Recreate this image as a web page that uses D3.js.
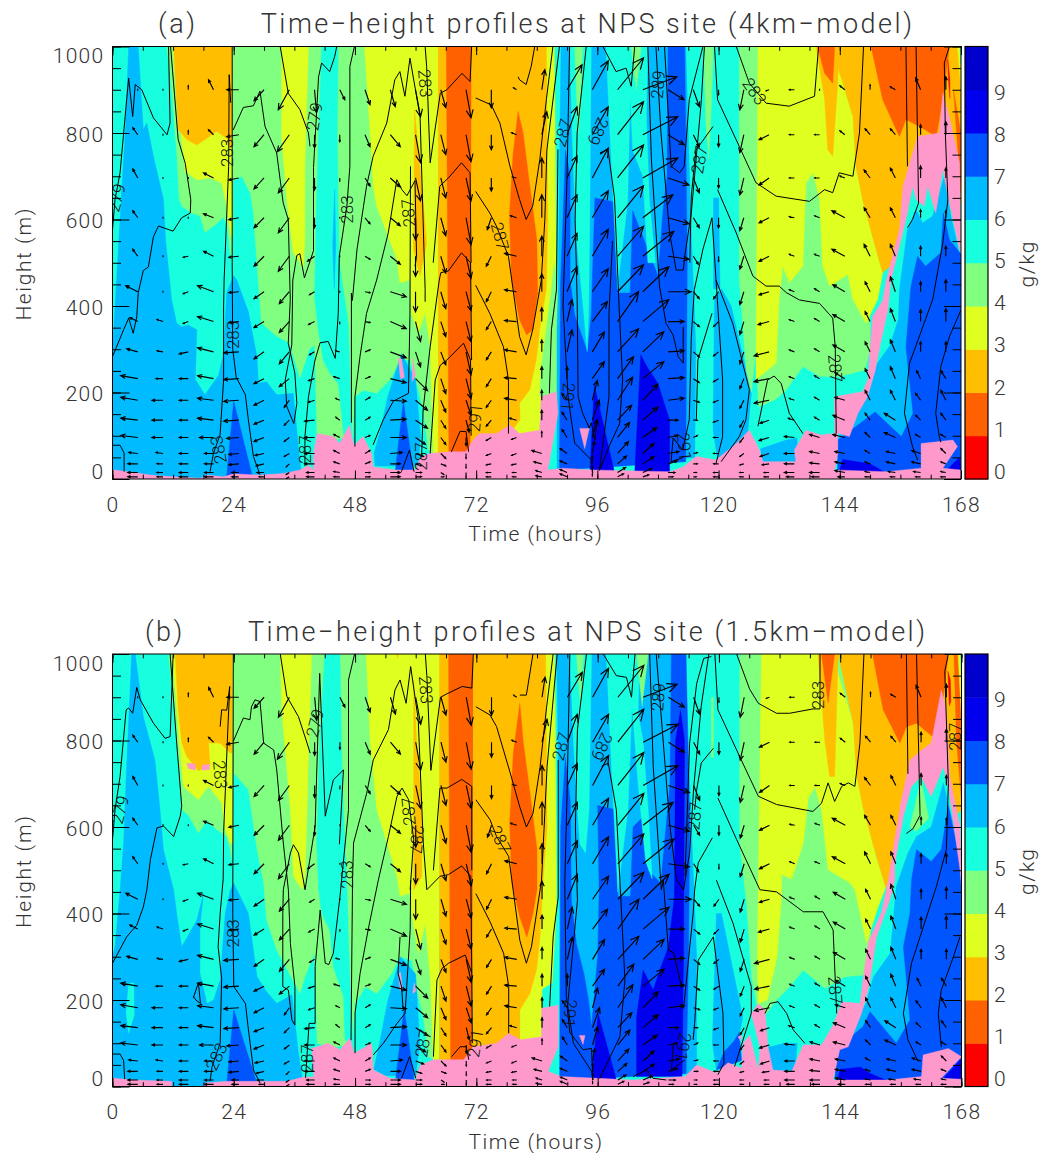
<!DOCTYPE html>
<html><head><meta charset="utf-8">
<script src="https://cdn.jsdelivr.net/npm/d3@7"></script>
<style>html,body{margin:0;background:#fff}svg{display:block}
text{font-family:"Roboto","Liberation Sans",sans-serif;fill:#333;font-weight:300;white-space:pre}</style>
</head><body><svg id="c" width="1040" height="1153"></svg>
<script>
const bandColors=["#ff0000","#ff6000","#ffbf00","#dfff20","#80ff80","#18ffdf","#00bbff","#0055ff","#0000ee","#0000cc","#ff99cc"];
const qTicks=[0,1,2,3,4,5,6,7,8,9];
const timeTicks=[0,24,48,72,96,120,144,168];
const timeMinor=d3.range(0,169,6);
const heightTicks=[0,200,400,600,800,1000];
const heightMinor=d3.range(0,1001,50);
const windHeights=[5,15,35,59,96,136,182,232,294,364,433,515,604,696,796,900];
const windTimes=d3.range(0,166,5);
// wind components per time column, lowest level first
const windU=[
[-5,-5,-5,-5,-8,-8,-8,-8,-8,-8,-8,-5,-5,-5,-5,-5],
[-10,-10,-10,-9,-17,-17,-17,-17,-11,-8,-12,-5,-5,-5,-5,0],
[-6,-6,-6,-7,-11,-11,-11,-7,-6,-6,0,0,0,0,0,0],
[-9,-9,-9,-9,-9,-9,-9,-9,-9,-5,-5,-5,0,0,0,0],
[-9,-9,-9,-9,-14,-16,-16,-16,-16,-16,-16,-10,-10,-10,-5,-5],
[-7,-7,-10,-10,-12,-15,-15,-15,-15,-10,-10,-10,-10,-10,-12,-12],
[-5,-7,-8,-9,-10,-10,-10,-10,-10,-10,-10,-10,-10,-10,-10,-10],
[-3,-3,-3,-5,-5,-5,-5,-10,-10,-10,-10,-11,-11,-11,-12,-11],
[-8,-8,-10,-10,-10,-10,-6,-6,-5,-6,-5,-7,0,0,0,2],
[-6,-6,-6,-6,-6,-4,-4,-6,-4,0,0,0,0,0,0,5],
[5,5,5,5,5,5,5,5,5,5,5,5,5,5,5,5],
[10,10,10,12,16,16,16,16,16,16,16,10,10,10,10,5],
[6,6,6,8,10,12,12,12,5,5,0,0,0,5,5,5],
[3,3,5,5,5,5,5,5,5,5,5,5,5,5,5,5],
[0,0,0,0,0,3,5,5,5,5,5,5,5,5,5,5],
[-5,-5,-5,-5,-5,-5,-5,-5,-5,-5,-5,-5,-4,0,0,0],
[-4,-4,-5,-5,-5,-7,-12,-12,-12,-12,-12,-12,-6,-4,-5,-3],
[-6,-6,-8,-10,0,0,0,0,0,0,0,0,0,0,5,3],
[-7,-7,-7,-7,-5,-5,-5,0,5,5,10,10,10,10,10,15],
[0,0,0,2,5,7,5,12,12,15,16,16,16,16,16,16],
[6,8,9,11,12,14,15,16,21,21,26,26,26,26,26,26],
[6,9,11,11,14,15,15,21,21,26,26,31,30,35,35,34],
[5,7,9,11,9,10,16,16,16,16,23,21,21,21,16,16],
[3,3,4,4,4,4,6,6,6,6,6,5,6,6,6,6],
[-5,-5,-5,-5,-5,-5,-5,-5,-5,-5,-5,0,0,0,0,0],
[-4,-4,-4,-4,-4,-4,-4,-4,-4,-4,-4,-4,-4,-4,-4,-4],
[-5,-5,-7,-9,-10,-9,-15,-15,-15,-11,-10,-10,-10,-10,-10,-3],
[-8,-10,-10,-10,-10,-6,-5,-5,-5,-5,-5,-5,-5,-5,-5,-5],
[-8,-10,-10,-10,-10,-5,-5,-5,-5,-5,-5,-5,-5,-5,-5,0],
[-7,-10,-10,-10,-12,-12,-10,-10,-12,-12,-12,-13,-13,-5,-5,-5],
[-5,-5,-5,-5,-5,-5,-5,-5,-5,-5,-5,-6,-6,-6,-5,0],
[-5,-7,-9,-9,-11,-11,-5,-5,-5,-5,-5,-5,-5,-5,-5,-5],
[-5,-7,-9,-9,-5,-5,-5,-4,0,0,0,0,0,0,0,-5],
[-5,-5,-5,-5,-5,-5,-5,-5,0,0,0,0,0,0,0,0]];
const windV=[
[0,0,0,0,1,1,1,1,1,1,1,1,1,1,1,0],
[0,0,0,1,2,2,3,3,3,4,6,7,7,9,7,0],
[0,0,0,1,0,0,0,0,1,2,0,0,0,0,0,0],
[0,0,0,0,0,0,0,0,-2,-2,-2,-1,0,0,4,4],
[0,0,0,0,0,2,2,3,4,5,6,5,4,5,5,10],
[0,0,-1,-1,-1,-1,-1,-1,-1,-1,-1,-1,-2,-2,-2,0],
[0,0,-2,-2,-4,-4,-5,-5,-7,-6,-7,-10,-10,-11,-12,-11],
[-2,-2,-3,-3,-4,-5,-7,-8,-12,-11,-12,-15,-15,-15,-17,-20],
[0,0,0,0,0,-1,-2,-2,-3,-3,-3,-5,-10,-12,-13,-23],
[0,1,2,3,3,3,2,2,1,-2,0,0,0,-3,-7,-10],
[0,0,2,3,2,3,3,2,2,-1,-1,-3,-6,-8,-12,-15],
[0,0,0,1,0,1,-1,-4,-6,-7,-5,-8,-8,-9,-12,-17],
[0,0,-2,-3,-7,-8,-10,-12,-15,-20,-20,-20,-22,-23,-28,-27],
[0,-2,-2,-5,-7,-8,-12,-15,-13,-15,-17,-17,-18,-20,-20,-18],
[-3,-4,-4,-5,-8,-12,-15,-20,-23,-20,-19,-22,-27,-23,-27,-28],
[0,0,-1,-2,-3,-6,-7,-8,-8,-8,-10,-10,-12,-13,-15,-18],
[0,0,-1,-2,-2,2,2,1,2,1,2,3,2,1,2,2],
[1,2,2,3,6,10,10,12,12,14,18,20,23,20,23,20],
[3,3,3,5,8,8,7,12,22,22,25,23,23,22,28,25],
[3,6,8,12,18,20,20,17,20,20,23,27,27,30,28,29],
[3,5,8,12,15,15,23,22,23,30,27,30,32,33,33,32],
[2,4,7,10,10,13,16,17,20,22,25,25,23,20,18,13],
[0,0,3,2,2,0,2,1,1,0,0,-3,-6,-7,-10,-10],
[0,0,0,1,2,0,-2,-4,-5,-5,-7,-8,-10,-15,-12,-17],
[0,0,0,0,0,-2,-2,-3,-4,-5,-7,-5,-10,-10,-12,-5],
[0,0,-1,-3,-5,-7,-8,-10,-12,-13,-13,-13,-13,-17,-18,-20],
[0,0,-1,-3,-3,-3,-3,-3,-4,-3,-3,-5,-5,-7,-5,-1],
[0,0,0,0,1,2,2,2,2,2,2,2,1,0,0,0],
[0,0,1,2,3,3,3,3,3,3,3,2,2,0,0,0],
[0,2,2,2,3,5,3,6,7,7,7,7,7,2,4,4],
[0,1,2,3,5,7,10,10,10,10,10,12,10,8,6,5],
[0,1,2,2,5,7,10,12,12,13,15,12,10,10,6,3],
[0,1,2,3,3,5,7,8,10,12,10,10,8,12,10,12],
[0,1,2,5,3,7,10,8,10,13,12,10,7,10,13,13]];

// filled humidity regions: [band, hour, metre, hour, metre, ...] in painting order; band 10 is the pink class
const qRegionsA=[
[5,0,0,168,0,168,1000,0,1000],
[6,3.2,1000,5.1,1000,6.1,808,6.8,823,8.1,746,10.1,646,10.5,554,11.7,415,12.7,360,13.7,352,15,356,16.7,345,16.4,230,18.3,195,21,240,22,290,22.6,430,24,470,24.6,460,26.9,387,28.6,283,28.9,222,30.5,225,32.5,195,35.8,198,36.8,75,37.5,0,0,0,0,300,0.5,400,1.5,600,2.5,800],
[7,24,180,27.7,6,22.6,6],
[4,10.8,1000,23.8,1000,23.7,500,23.3,524,22.7,585,22,605,20,585,18.3,570,17.3,608,15.7,615,13.8,630,13.2,646,12.8,738,11.9,877],
[3,11.9,1000,23.8,1000,23.8,560,23.5,560,22.6,630,21.6,685,19.3,696,16.7,692,14.4,711,13,850],
[2,12.1,1000,23.7,1000,23.7,770,23.3,765,22.6,788,20.6,804,18.7,788,16.7,772,14.7,785,13,808],
[4,23.9,1000,64,1000,64,60,63,60,62.5,69,61.5,161,60.2,223,58.9,275,57,275,55,230,52.3,198,49.7,205,48,190,47.5,100,44,90,40.5,100,40,310,39,300,37.1,233,35,315,32.5,330,29.5,360,28.9,450,27.9,615,27.3,660,25.6,700,23.9,690],
[5,41.4,1000,44.7,1000,44.5,800,44.9,500,46.7,360,47.3,130,47.5,75,46,80,44.7,220,43,245,41.7,275,40.8,340,40,420,40.3,600,40.8,800],
[6,43.6,540,44,670,44.2,540,43.9,440],
[3,33.5,1000,38.8,1000,38.1,723,38.1,550,37.8,490,35.8,523,34.5,646,33.5,785],
[6,57.2,290,60,230,61,100,60.5,30,55.5,30,54.5,30,52,30,51.8,60,53,110,54.5,190],
[7,57.6,180,59.5,20,56,20],
[3,49.9,1000,64.6,1000,64.6,60,63.5,59,62.9,306,61.9,383,60.5,337,59.2,383,58.9,460,56.9,454,56.3,508,52.3,631,51.6,677,50.6,877],
[2,59.8,854,61.2,685,62.2,545,60.9,469,59.6,530],
[2,64.5,1000,71.2,1000,71.2,60,64.5,60],
[1,66.1,1000,71.1,1000,70.8,60,66.6,60],
[3,85.9,1000,87.5,1000,87.9,420,87,240,85,225,84.5,100,78,100,80.7,137,80.6,175],
[4,87.5,500,88.2,430,88,190,84.6,190,84.9,260,86.5,400],
[2,71.1,1000,85.9,1000,86.2,600,85.9,440,84.6,345,83.9,275,82.6,206,80.6,175,80.7,137,78.7,105,71.1,70],
[1,80.3,850,81.3,800,82.6,680,84,555,84.2,430,83.2,345,82,333,80.6,368,79,460,78.6,610,79.3,750],
[6,88.8,1000,113.5,1000,114.5,600,115.5,300,115.3,50,88,20,88,350,88.2,415,88.5,720],
[7,89.7,760,90.6,700,90.6,460,91.5,380,94,295,94.8,380,95.5,650,99.7,640,100,430,102.5,430,103,620,105,560,108,470,109,620,109.8,700,110,1000,113.3,1000,113.8,500,113.5,40,88.5,20,88.7,450],
[5,90.5,1000,94.8,1000,94.5,600,94.3,400,94,295,93,420,91.8,560,91,800],
[4,91.5,1000,93.1,1000,92.6,850,92.2,800],
[5,97.7,1000,106,1000,105.7,840,106.3,646,107.5,500,106,500,105,700,103,760,102.5,885,102,640,100,440,99,677,98.5,800],
[4,102.7,1000,104.7,1000,103.7,900],
[8,95.4,217,94.5,15,99.4,15],
[8,104.6,287,105.8,260,108,221,110.3,136,110.3,15,103.4,15],
[4,117,1000,119,1000,118.4,820,118,740,117.5,820],
[6,119,650,120,650,120.3,440,119,440],
[6,119.2,420,120.6,440,122.5,400,125.5,250,126.5,200,125.8,110,123,60,119.8,45,118.9,114],
[4,124.1,1000,150,1000,150,300,149,252,144,237,140,237,136.7,260,133.4,206,131.2,183,127.9,167,127.4,300,126.5,200,125.5,250,124.1,460],
[3,127.8,1000,143,1000,143.6,954,146.6,838,147.2,723,148.5,646,151.2,530,152.5,477,151.5,415,149.2,360,146.6,415,145.6,473,142,446,140.6,492,140,646,138.7,708,137.3,685,136.7,492,134,454,132.7,492,132,415,131.4,268,129,245,127.4,229],
[2,139.3,1000,141,877,141.6,762,142.6,746,143.6,915,143.9,1000],
[1,139.6,1000,141,938,142.6,915,143,1000],
[2,143,1000,168,1000,168,640,152.5,477,151.2,530,148.5,646,147.2,723,146.6,838,143.6,954],
[1,150.2,1000,165.7,1000,165.4,969,164.4,877,163.1,792,159.8,815,157.1,831,155.8,792,152.5,877],
[1,166.5,900,168,800,168,660],
[3,167.3,1000,168,1000,168,900],
[5,167.8,1000,168,1000,168,960],
[0,165.4,970,165.8,925,165.8,880,165.5,925],
[5,149,150,154,415,154.1,459,155.8,538,157.4,615,158.4,677,161,690,164.4,720,165.7,640,168,530,168,0,145,0],
[6,143.6,95,149,190,150.6,254,153.9,308,155.6,369,155.8,437,157.4,577,159.1,623,160.4,592,162.4,608,164.7,700,166,608,167.8,515,168,500,168,0,143.6,0],
[7,143.6,90,147.6,125,151,155,156.2,98,158.5,152,157.1,305,158.1,446,159.4,515,161,492,164,523,164.5,615,165.7,553,167.8,523,168,520,168,0,143.6,0],
[8,143.6,5,144.6,45,150,35,153,15],
[8,165.5,25,167.7,50,168,15],
[6,128.8,40,128.3,70,133.4,90,135.5,95,135.9,40],
[10,0,0,0,20,0.5,21,4.2,15,7.5,9,12,5,17.4,2,18.6,9,22,5,24,12,29.2,9,33.9,13,37.1,21,38.8,32,39.8,21,39.8,59,40.5,105,43.8,98,45,82,46.9,125,47.8,78,49.6,98,51.3,59,51.6,28,56.2,21,59.9,21,60.9,48,62.5,59,66.8,63,70,63,71.4,90,72.7,105,76,105,78.7,125,80.6,105,84.6,113,84.9,190,87.9,202,88.2,152,86.2,21,89.2,25,95.1,21,110.3,17,113,28,115.6,52,119.5,44,123.5,82,126.1,113,128.1,67,128.8,40,135.3,40,135,67,137.3,113,140.3,102,143,106,142.9,190,148.5,202,149.5,228,150.5,375,152.5,413,153.2,459,155.8,577,156.5,677,159.4,792,163.7,800,164.4,892,165.7,838,167.7,731,168,523,167.7,531,165.7,638,164.4,715,163,615,161.4,677,160.7,631,159.1,646,158.4,677,157.4,615,155.8,538,154.1,459,153.5,390,152,310,151,250,149.5,190,147.6,152,145.9,98,143.6,106,143.6,59,143,21,153.2,17,160.1,25,160.1,82,166.4,90,167.3,75,164.4,25,168,21,168,0],
[10,92.5,117,94.4,117,93.5,70],
[10,56.6,280,57.2,278,57.8,235,57,232],
[10,59.5,280,60,240,59.3,225]
];
const qRegionsB=[
[5,0,0,168,0,168,1000,0,1000],
[6,3.8,1000,4.5,1000,6.1,855,8.4,755,9.4,640,10.1,546,12.1,455,12.7,400,13.7,323,16.7,385,18,446,17.3,369,17.3,262,18.7,192,20,200,21.3,246,22.3,400,23.3,454,24,470,26.9,400,28.6,254,30.5,219,32.5,192,35.5,212,36.8,77,37.5,23,37.5,0,0,0,0,300,0.5,323,1.5,455,2.2,563,2.7,717],
[5,2.7,170,3.2,238,4.2,240,4.3,165,3.2,123],
[7,24,177,28.6,6,22.6,6],
[4,11.1,1000,23.8,1000,23.7,520,23.3,548,22.6,578,20.6,594,18.7,617,17,586,15,628,13.7,640,13.4,717,12.4,840],
[3,11.8,1000,23.8,1000,23.8,560,23.3,563,22.3,594,21.6,655,19,694,17,663,14,694,13.2,800],
[2,12.4,1000,23.7,1000,23.7,771,23.3,771,21.3,794,19,794,19.3,744,17,730,14.7,763,13.7,794,13,871],
[10,14.7,748,16.4,745,16.4,732,15,735],
[10,17.7,743,19.2,745,19.2,733,17.7,731],
[4,23.9,1000,64,1000,64,60,62.5,69,61.5,161,60.2,223,59.2,292,56.9,300,55.3,262,52.3,215,50,230,48,190,47.5,100,44,90,40.5,100,40,310,38.1,254,37.1,215,32.5,315,30.5,385,29.9,471,28.6,548,26.9,686,24,725],
[5,42,1000,45,1000,45.5,700,46.4,455,47,246,47.7,92,46,108,45.7,208,43.7,277,43,361,41.4,400,40.8,455,40.4,563,41,800],
[3,33.2,1000,39.4,1000,38.5,640,38.1,486,37.5,455,35.8,486,35.2,640,33.5,870],
[6,57,300,60,260,60.8,100,60,25,54,25,51.7,40,53,110,54.5,200],
[7,57.7,180,59.7,15,56,15],
[3,50.2,1000,64.8,1000,64.6,62,63.5,62,62.9,246,61.9,377,60.5,308,59.2,400,58.9,448,56.9,440,56.3,486,52.3,640,51,794],
[2,56.2,1000,56.6,1000,56.4,990],
[2,59.6,940,60.2,794,61.2,640,61.2,486,59.6,455],
[2,64.7,1000,71.4,1000,71.4,60,64.7,60],
[1,66.5,1000,71.4,1000,71.1,60,66.9,60],
[3,85.7,1000,87.5,1000,87.9,420,87,240,85,225,84.9,100,78,100,80.6,108,80.6,177],
[2,71.4,1000,85.7,1000,86,600,85.2,477,84.6,346,83.9,269,82.6,215,80.6,177,80.6,108,78.4,105,71.4,70],
[1,80.6,886,81.3,794,82.6,680,84,548,84,455,83.2,400,82,345,80.6,392,79,470,78.6,610,79.3,770],
[6,87.9,1000,113.3,1000,114.2,700,115.6,300,115.6,30,88.5,15,88.5,500],
[7,110.6,1000,113.5,1000,114.2,600,114,300,113.5,30,88.5,15,88.7,600,89.6,760,90.6,660,90.8,430,91.8,330,93.3,260,94.2,200,94.8,138,96,300,96.3,450,96,650,99.7,640,100,440,102.5,440,103,600,104.7,620,106,500,108.5,470,110.3,700],
[5,90.5,1000,94.8,1000,94.3,640,93.6,540,92.5,560,92,640,91.2,800],
[4,91.8,1000,93.2,1000,92.6,880],
[5,97.7,1000,104.3,1000,104,860,105,800,106,640,106.8,480,105.5,520,104,700,102.8,880,102,640,100,450,99,677,98.5,800],
[4,103.7,1000,106,1000,104.8,880],
[8,96.1,169,94.8,15,99.7,15],
[8,103.7,23,103.7,161,105,269,107,223,108.3,269,110,323,111.2,440,111.4,800,112.4,870,113.2,800,113,300,112.7,23],
[4,118.5,900,118.9,900,118.9,760,118.5,760],
[6,119.5,400,120.5,400,124.7,160,124,115,119.5,38,118.7,100],
[7,119.5,38,121,80,123,105,124,125,124.5,60],
[4,124.1,1000,150,1000,150,300,148.9,258,145,254,141,227,136.7,269,133.4,223,131.4,200,129.4,169,127.8,170,126.5,250,125.5,420,124.1,560],
[3,128.4,1000,143,1000,143.6,954,146.6,838,147.2,723,148.5,646,151.2,530,153,460,151.5,415,149.2,331,146.9,455,145.9,471,141.6,501,140.3,640,139,692,137.7,669,136.7,563,134.4,480,132.4,490,132.4,440,131.5,300,129.6,200,127.8,192,127.6,300],
[2,139.6,1000,141,794,141.9,717,142.9,717,143.6,1000],
[1,140.3,1000,141.6,887,142.9,1000],
[2,143.6,1000,168,1000,168,640,153,460,151.2,530,148.5,646,147.2,723,146.6,838],
[1,150.4,1000,165.4,1000,164.4,902,163.1,801,159.1,840,157.1,832,155.8,794,152.5,871],
[1,166.5,1000,167.8,1000,168,660,167,800],
[3,167.3,1000,168,1000,168,850],
[5,167.8,1000,168,1000,168,930],
[0,165.3,960,165.8,940,165.9,890,165.6,880],
[5,149,150,154,415,154.1,455,154.8,517,156.5,625,158.1,694,160,717,162,671,164.4,740,165.4,694,168,500,168,0,145,0],
[4,157.8,600,160,710,161.5,620,159,590],
[6,143,90,149,190,150.6,254,153.9,308,155.1,463,157.4,540,159.1,578,162,600,164.4,702,165.7,640,167.8,540,168,520,168,0,143,0],
[7,143,85,148.5,138,149.9,173,155.1,100,157.8,154,156.5,323,157.8,400,158.1,477,159.1,548,162,520,164,548,165.4,648,167.8,517,168,500,168,0,143,0],
[8,143.5,15,144,40,148,45,150,30,153,15],
[8,164.5,20,166.5,45,168,65,168,15],
[6,129,35,129.5,90,133,100,135.5,100,135,30],
[10,0,0,0,20,0.5,19,4.2,15,11.7,12,11.7,0,18,0,18,8,22.6,12,24,12,29.2,12,34.5,12,37.8,22,39.8,22,39.4,88,42.7,100,45,85,47,112,47.8,77,51.3,100,51.6,38,54.9,19,59.9,15,60.9,50,63.5,62,69.5,62,71.4,92,76,100,78.4,123,80.7,108,84.9,115,84.9,181,88.2,188,88.2,92,86.2,35,88.8,23,103,15,113.3,23,115.6,50,119.5,31,121.8,55,124.5,42,124.8,100,126.1,119,127.8,38,128.1,92,126.4,169,127.8,192,129.1,177,129.7,92,130.7,38,134.4,35,136.7,96,140.3,96,142.6,142,144.3,196,147.9,192,148.5,246,149.5,331,152.2,404,153.5,477,154.8,571,156.1,663,157.8,755,159.4,771,162,794,164,917,165,871,165.7,717,167.7,602,168,463,167.7,502,165.4,694,164.4,740,162,671,160,717,158.1,694,156.5,625,154.8,517,154.8,477,153.8,431,151.2,346,149.9,246,149.2,208,148.2,169,145.6,92,143.9,85,142.6,15,153.5,15,160.1,23,160.4,73,165.4,88,168,69,164,19,168,17,168,0],
[10,92.4,118,93.5,118,93.1,97],
[10,123.8,115,124.5,119,124.3,105],
[10,56.6,260,57,265,57.4,225,56.9,222],
[10,59.7,240,60,220,59.4,215]
];
// potential temperature contours: hour, metre pairs
const thetaA=[
[0,577,0.5,646,1.5,708,2.5,838,3.2,927,4,838,4.5,912,5.8,900,8.1,835,10.8,796,11.4,823,11.1,1000],
[0,283,2.2,345,3.2,372,4.1,337,4.8,375,5.1,431,6.1,482,7.1,490,8.1,560,9.1,585,12,573,13.7,604,15.4,615,15.5,646,14.4,730,13,785,11.5,1000],
[0,78,1.5,78,2.3,60,2.3,17],
[19.3,17,20,60,21.3,102,22,229,22,398,22.1,460,23,723,23.1,935,23.4,870],
[23.7,1000,23.7,500,23.8,300,24.5,235,26.3,195,26.9,137,27.9,52,29.2,10],
[23.9,807,25.9,859,27.9,863,29.2,897,30.2,815,32.5,754,33.8,638,34.8,600,35.2,415,34.8,314,36.1,245,36.5,175,35.9,128,34.5,168,34.2,229,35.5,310,35.7,460,36.5,517,37.1,521,38,465,39.8,528,39.8,720,40.8,930,41.4,962,43,942,44,977,44.4,1000],
[33.2,1000,34.8,892,37.1,854,38.8,800,39.1,769],
[38.1,30,38.1,98,38.8,190,40.1,275,41.1,315,42.7,318,44.1,279,44.7,383,44.9,515,46.4,630,47,723,47,954,47.9,1000],
[47.3,130,47.3,430,47.5,413,48.4,530,50.3,677,51.6,746,54.3,823,55.9,923,56.9,942,57.9,885,58.9,973,60.9,838,61.9,438,61.9,410],
[48,75,48,190,49,283,50.3,383,52.3,460,54.6,569,56.3,692,57.3,669,58.3,655,59.9,690,60.2,515,59.9,492],
[51.6,79,53.6,137,55.6,180,58.6,198,58.9,383,59,723],
[61.9,1000,62.2,954,62.9,731,64.9,892,66.2,900,69.2,938,70.8,919,71.1,1000],
[62.9,59,63.9,229,64.9,263,66.2,275,69.5,314,70.9,275,71,100],
[67.1,63,68.8,110,70,110,70.5,63],
[61.2,52,61.5,160,62.9,306,64.7,460,65,477,66.5,481,69.1,523,70.9,500,71.1,275],
[63.5,500,64.8,677,66.5,696,69.1,731,70.8,708,71,500],
[71.9,881,75,865,76.7,823,78.7,723,80.6,646,81.9,600,83.2,631,84.6,738,85.9,877,87.2,1000],
[71.9,665,74.7,615,76,585,78.4,515,80.6,329,81.9,287,83.2,345,84.9,460,85.6,600,86,760,88.5,1000],
[71.9,448,74.7,383,77.4,306,78.4,229,78.4,105],
[80.3,930,80.6,923,81.9,912,82.9,954,83.6,1000],
[86.5,198,86.9,345,87.9,437,88.2,762],
[90.5,1000,90,700,89.2,400,90.2,190,91.5,83,94.8,44,95.1,13],
[93.8,1000,92,800,91.6,600,92,415,92.2,190,93.1,152,94.4,118,94.8,130,95.5,90,96,137],
[96.4,20,98.5,80,100.4,128,101,229,100.3,400,99.4,650,98.1,762,96.5,754],
[96.4,20,98.3,190,98.3,383,99,550],
[97.1,1000,99.7,942,101.7,950,102.7,908,103.4,1000],
[106,1000,106.7,738,108.3,446,109.6,360,111,333,112,283,113,268,113,352],
[107.6,1000,108.6,800,110.3,569,111.6,483,113,483,113.4,523,114.6,615,116.6,877,117.2,1000],
[109.3,1000,110.6,723,112.3,708,113.2,723,114.2,877,116.9,1000],
[118.9,815,115.5,760,114.6,654,114.3,500],
[118.7,604,116.9,531,115.2,438,114.6,329,114.2,137,112.9,67,111,95,110.6,40,113,50],
[118.7,383,115.9,275,115.6,137],
[118.7,604,119.5,460,120.8,229,120.8,98,119.5,36],
[119.2,1000,119.8,877,124.1,769,127.4,685,131.4,654,138,642,141,669,142.6,662,143.9,708,146.6,700,147.9,800,148.7,1000],
[119.8,669,123.5,569,126.8,469,129.4,446,132,446,133.4,431,136,414,140,406,142.6,372,143.1,306,143.3,106],
[123.5,1000,126.1,915,129.4,869,134,862,139,885,139.8,1000],
[119.5,460,122.8,360,126.1,206,125.4,136,124.1,98,120.5,40],
[127.8,122,129.7,229,131,238,132.4,221,134,152,136.7,105],
[157.1,1000,157.4,723],
[159.1,1000,159.6,638,158.4,600,157.4,581],
[165.7,1000,164.7,962,164.9,800,165.4,646,164.4,546,162.4,415,157.8,267,156.8,152,158.4,75,159.4,44],
[168,391,165.7,329,164,260,163,152,163.7,98,164,85],
[57.2,17,58.8,67,59.7,17]
];
const thetaB=[
[0,571,0.5,640,1.5,717,2.7,871,3.2,875,4,863,4.8,923,5.5,894,8.1,840,10.4,805,11.4,809,12,1000],
[0,285,2.8,346,4.8,373,6.1,415,6.8,455,7.5,525,8.8,598,10.1,602,12.1,578,13.4,625,13.7,648,12.7,794,11.4,1000],
[0,75,1.5,75,2.2,60,2.4,17],
[16,205,17,240,17.4,192,16.5,200,16,208],
[19.3,12,19.7,46,21.3,100,21.6,250,20.9,323,21.3,400,21.9,480,22,590,22.8,820,23.2,925,22.6,870,21.6,871,21.3,832],
[23.9,1000,23.8,400,24,231,26.3,192,26.9,131,27.9,38,29.2,8],
[23.9,798,25.9,852,27.2,848,27.5,878,28.2,894,29.2,890,29.9,794,31.9,778,32.5,732,33.8,563,34.8,455,35.2,331,36.1,231,36.1,142,35.5,154,34.8,223,33.7,231,33.7,400,33.8,455,35.2,540,35.8,559,36.8,540,38.1,455,40.1,602,41,955,42.1,625,43.7,709,45.7,732,44.9,560],
[33.2,1000,34.5,902,36.8,855,38.5,794,39.1,771],
[38.2,20,38.9,146,40.1,146,40.1,277,41.1,408,42.1,285,42.8,282,43.7,308,45,438,46.7,640,46.7,940,47.9,1000],
[47.2,107,47.5,477,47.7,563,50.3,678,51.6,755,54.6,825,55.9,917,56.9,940,58.1,886,59,971,60.5,848,61.5,563,62.2,455],
[48,77,48,170,49,262,50.7,369,52.6,477,54.6,578,56.3,671,57.3,690,58.6,663,59.6,571,58.9,455],
[51.6,73,53.6,100,56.3,146,57.9,169,58.9,361,59,477],
[56.9,346,56.5,262,57.2,230,57.5,180],
[57.2,19,58.8,69,60,19],
[61.9,1000,62.2,950,63,731,64.9,900,66.2,908,69.2,925,71.1,921,71.4,1000],
[63.5,69,64.2,246,65.2,273,66.5,285,69.8,304,71.1,262,71.2,100],
[67.1,69,68.8,92,70,92,70.5,62],
[62.2,455,64.8,486,66.5,490,69.1,510,70.9,486,71.1,262],
[63.5,500,64.8,690,66.2,690,69.1,710,71.1,694,71.1,500],
[71.9,878,74.7,859,76,832,78.7,725,80.6,646,81.9,600,83.2,631,84.6,738,85.9,877,87.2,1000],
[71.9,663,74.7,617,76,578,78.4,532,80.6,338,81.9,285,82.9,323,84.9,477,86,740,88,1000],
[71.9,446,74.7,381,77.4,308,78.4,231,78.4,123],
[80.6,905,81.9,905,83.2,1000],
[86.5,185,87.2,346,88.2,438,88.2,755],
[90.5,1000,90,700,89.5,470,89.8,208,91.2,100,94.8,35,95.1,15],
[93.8,1000,92,825,91.6,600,92,430,90,180,90.5,125,93.1,85,94.8,88,95,23],
[96.4,19,100.4,115,101.4,246,100.4,477,99.7,640,98.1,748,96.8,740],
[97.1,1000,99.7,950,101.7,946,102.7,900,103.4,1000],
[106.3,1000,107,740,108.6,455,109,477,110,315,111,310,112.3,246,113,230],
[107.6,1000,109,794,110.3,602,111.6,478,113,455,114.2,540,115,690,116.5,880,118,1000],
[118.5,994,117,990,115.6,932,114.2,794,113.3,486],
[119.2,1000,119.8,871,124.1,763,127.8,671,131.4,652,138.6,636,140.3,655,141.6,702,142.9,659,144.3,694,145.6,702,146.9,694,147.9,794,148.7,1000],
[118.9,782,116.5,748,115.6,686,115.2,640],
[119.8,667,123.5,571,128.1,455,131.4,450,136.7,404,140.6,404,142.6,362,143.3,169],
[123.5,1000,126.1,918,127.8,886,131.4,863,134,863,138.6,873,140,873,140,1000],
[118.7,575,115.9,517,115.2,455,114.9,400,113,180],
[119.5,477,122.8,377,126.4,231,126.4,169,125.4,131,123.1,46],
[118.9,346,115.9,292,115.2,146,114.9,108],
[118.9,346,120.8,169,121,54,119.8,27],
[129.1,169,130.1,192,131.7,196,133.4,169,134.7,131,137,100],
[157.1,1000,157.4,723],
[159.1,1000,159.8,627,158.4,596,157.1,585],
[165.4,1000,164.7,960,165.4,700,165,548,163,461,158.1,285,156.5,169,157.4,108,159.4,58],
[167.7,346,166.4,300,164,223,163.4,169,164,92],
[103,23,105.7,38,107,19,109.6,15],
[111,100,110.6,38,113.3,62]
];
// contour labels: text, hour, metre, angle
const labelsA=[["279",0.8,650,-75],["283",22.6,754,-90],["279",40,838,-80],["283",46.4,623,-90],["283",61.9,915,85],["287",58.6,615,-95],["287",76.7,561,75],["283",23.9,333,-90],["283",21,68,-100],["287",38.1,68,-90],["287",61,52,-90],["291",71.8,141,-85],["287",89.2,800,-75],["289",96.1,804,115],["289",108,912,-85],["287",116.2,738,-80],["283",127.1,896,55],["287",143.1,256,85],["291",90.2,190,95],["291",113.2,75,85]];
const labelsB=[["279",1.5,640,-75],["283",21.3,721,85],["279",40.1,840,-75],["283",62,917,85],["287",58.6,636,-95],["287",60.2,571,95],["287",76.7,571,65],["283",46.4,490,-90],["283",23.9,354,-90],["283",20.6,69,-65],["287",38.5,65,-90],["287",61.5,100,-80],["291",71.8,100,-80],["287",88.8,786,-75],["289",96.8,786,115],["289",108,900,-85],["287",115.2,625,-85],["283",139.6,905,-90],["287",143,223,85],["291",90.5,169,95],["291",112.9,92,100],["287",166.7,809,-90]];

const svg=d3.select("#c");
const pairs=a=>d3.range(0,a.length,2).map(i=>[a[i],a[i+1]]);
const bandFill=d3.scaleOrdinal(d3.range(11),bandColors);
const windPx=d3.scaleLinear([0,10],[0,10]);

function drawPanel(id,top,bottom,right,title,titleX,titleLen,titleY,regions,theta,labels){
  const left=112.5;
  const x=d3.scaleLinear([0,168],[left,right]);
  const y=d3.scaleLinear([0,1000],[bottom,top]);
  const line=d3.line().x(d=>x(d[0])).y(d=>y(d[1]));
  const g=svg.append("g");
  g.append("clipPath").attr("id",id).append("rect").attr("x",left).attr("y",top).attr("width",right-left).attr("height",bottom-top);
  const plot=g.append("g").attr("clip-path",`url(#${id})`);
  plot.selectAll("path.q").data(regions).join("path").attr("class","q")
    .attr("d",r=>line(pairs(r.slice(1)))+"Z").attr("fill",r=>bandFill(r[0])).attr("stroke",r=>bandFill(r[0])).attr("stroke-width",0.4);
  plot.selectAll("path.t").data(theta).join("path").attr("class","t")
    .attr("d",l=>line(pairs(l))).attr("fill","none").attr("stroke","#000").attr("stroke-width",1);
  const arrows=[];
  windTimes.forEach((t,i)=>windHeights.forEach((h,j)=>arrows.push({t,h,u:windU[i][j],v:windV[i][j]})));
  plot.selectAll("path.w").data(arrows).join("path").attr("class","w")
    .attr("d",a=>{
      const x0=x(a.t),y0=y(a.h),dx=windPx(a.u),dy=-windPx(a.v),x1=x0+dx,y1=y0+dy;
      const len=Math.hypot(dx,dy);
      if(len===0) return `M${x0},${y0-1}L${x0},${y0+1}`;
      const ang=Math.atan2(dy,dx),b=len*0.3,s=0.42;
      return `M${x0},${y0}L${x1},${y1}M${x1-b*Math.cos(ang-s)},${y1-b*Math.sin(ang-s)}L${x1},${y1}L${x1-b*Math.cos(ang+s)},${y1-b*Math.sin(ang+s)}`;
    }).attr("fill","none").attr("stroke","#000").attr("stroke-width",1.15);
  plot.selectAll("text.l").data(labels).join("text").attr("class","l")
    .attr("transform",d=>`translate(${x(d[1])},${y(d[2])}) rotate(${d[3]})`)
    .attr("text-anchor","middle").attr("dy","0.35em").attr("font-size",17).style("fill","#111")
    .text(d=>d[0]);
  // axes
  const styl=s=>{s.select(".domain").remove();s.selectAll("line").attr("stroke","#000");s.selectAll("text").attr("font-size",21).attr("letter-spacing",1.3).attr("fill",null);};
  g.append("g").attr("transform",`translate(0,${bottom})`).call(d3.axisBottom(x).tickValues(timeMinor).tickSize(-4.3).tickFormat("")).call(styl);
  g.append("g").attr("transform",`translate(0,${bottom})`).call(d3.axisBottom(x).tickValues(timeTicks).tickSize(-8.6).tickPadding(0).tickFormat(d3.format("d"))).call(styl)
    .selectAll("text").attr("y",18).attr("dy","0.71em");
  g.append("g").attr("transform",`translate(0,${top})`).call(d3.axisTop(x).tickValues(timeMinor).tickSize(-4.3).tickFormat("")).call(styl);
  g.append("g").attr("transform",`translate(0,${top})`).call(d3.axisTop(x).tickValues(timeTicks).tickSize(-8.6).tickFormat("")).call(styl);
  g.append("g").attr("transform",`translate(${left},0)`).call(d3.axisLeft(y).tickValues(heightMinor).tickSize(-8.5).tickFormat("")).call(styl);
  g.append("g").attr("transform",`translate(${left},0)`).call(d3.axisLeft(y).tickValues(heightTicks).tickSize(-17).tickPadding(8).tickFormat(d3.format("d"))).call(styl)
    .selectAll("text").attr("y",d=>d===0?-8:d===1000?9:1).attr("dy","0.35em");
  g.append("g").attr("transform",`translate(${right},0)`).call(d3.axisRight(y).tickValues(heightMinor).tickSize(-8.5).tickFormat("")).call(styl);
  g.append("g").attr("transform",`translate(${right},0)`).call(d3.axisRight(y).tickValues(heightTicks).tickSize(-17).tickFormat("")).call(styl);
  g.append("rect").attr("x",left).attr("y",top).attr("width",right-left).attr("height",bottom-top).attr("fill","none").attr("stroke","#000");
  g.append("text").attr("x",titleX).attr("y",titleY).attr("font-size",27).attr("textLength",titleLen).attr("lengthAdjust","spacing").text(title);
  g.append("text").attr("x",(left+right)/2-1).attr("y",bottom+62).attr("text-anchor","middle").attr("font-size",21).attr("letter-spacing",1.4).text("Time (hours)");
  g.append("text").attr("transform",`translate(31,${(top+bottom)/2+1}) rotate(-90)`).attr("text-anchor","middle").attr("font-size",21).attr("letter-spacing",1.6).text("Height (m)");
  // colour bar
  const cx=965,cw=23;
  const cy=d3.scaleLinear([0,10],[bottom,top]);
  g.selectAll("rect.cb").data(d3.range(10)).join("rect").attr("class","cb").attr("x",cx).attr("width",cw)
    .attr("y",d=>cy(d+1)).attr("height",d=>cy(d)-cy(d+1)+0.5).attr("fill",d=>bandFill(d));
  g.append("rect").attr("x",cx).attr("y",top).attr("width",cw).attr("height",bottom-top).attr("fill","none").attr("stroke","#000").attr("stroke-width",1.2);
  const labScale=d3.scaleLinear([0,9],[bottom-7.5,bottom-386.5]);
  g.append("g").attr("transform",`translate(${cx+cw},0)`).call(d3.axisRight(labScale).tickValues(qTicks).tickSize(0).tickPadding(6).tickFormat(d3.format("d"))).call(styl);
  g.append("text").attr("transform",`translate(1034,${(top+bottom)/2+1}) rotate(-90)`).attr("text-anchor","middle").attr("font-size",21).attr("letter-spacing",1.4).text("g/kg");
}
drawPanel("pa",46.5,479,961,"(a)       Time\u2212height profiles at NPS site (4km\u2212model)",158,754,33,qRegionsA,thetaA,labelsA);
drawPanel("pb",654,1086.5,961.5,"(b)       Time\u2212height profiles at NPS site (1.5km\u2212model)",145,780,641,qRegionsB,thetaB,labelsB);
</script></body></html>
